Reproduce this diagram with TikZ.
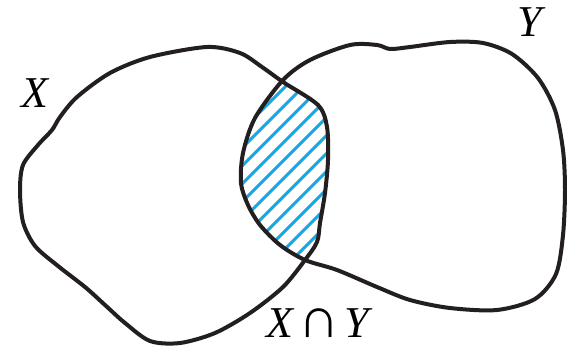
\documentclass[tikz,border=0pt]{standalone}
\usepackage{fontspec}
\setmainfont{Liberation Serif}

\tikzset{
  bordoinsieme/.style={draw=insiemeBordo,line width=4pt},
  tratteggio/.style={insiemeTratteggio,line width=3pt},
  etichetta/.style={font=\fontsize{44}{52}\selectfont\itshape,inner sep=0pt},
}

\begin{document}
\begin{tikzpicture}[x=1pt,y=-1pt,line join=round,line cap=round]
  \definecolor{insiemeBordo}{HTML}{231F20}
  \definecolor{insiemeTratteggio}{HTML}{1AA7E1}
  \useasboundingbox (0,0) rectangle (567,353);

  % Contorni dei due insiemi.
  \def\bordoX{plot[smooth cycle] coordinates {
    (60,117) (77,97) (110,73) (150,57) (207,47) (240,53) (262,67) (283,82)
    (318,105) (327,127) (328,160) (325,193) (320,223) (317,242) (305,260)
    (283,287) (250,313) (215,333) (180,343) (150,341) (125,323) (105,305)
    (85,287) (58,266) (35,246) (23,222) (20,190) (23,165) (38,145) (52,130)}}
  \def\bordoY{plot[smooth cycle] coordinates {
    (283,80) (310,60) (350,45) (377,45) (390,49) (410,47) (450,42) (483,43)
    (512,54) (538,78) (555,110) (563,150) (565,190) (563,235) (556,274)
    (535,299) (497,310) (450,308) (410,300) (377,287) (337,270) (305,260)
    (280,245) (260,225) (248,205) (241,183) (243,153) (255,118)}}

  % Intersezione tratteggiata.
  \begin{scope}
    \clip \bordoX;
    \clip \bordoY;
    \foreach \c in {372,390,...,590}{
      \draw[tratteggio] (\c-300,300) -- (\c,0);
    }
  \end{scope}

  \path[bordoinsieme] \bordoX;
  \path[bordoinsieme] \bordoY;

  \node[etichetta] (insiemeX) at (35,93) {X};
  \node[etichetta] (insiemeY) at (530,22) {Y};
  \node[etichetta,anchor=base] (intersezione) at (318,337)
    {X\hspace{5pt}\scalebox{1.3}{\upshape ∩}\hspace{5pt}Y};
\end{tikzpicture}
\end{document}
